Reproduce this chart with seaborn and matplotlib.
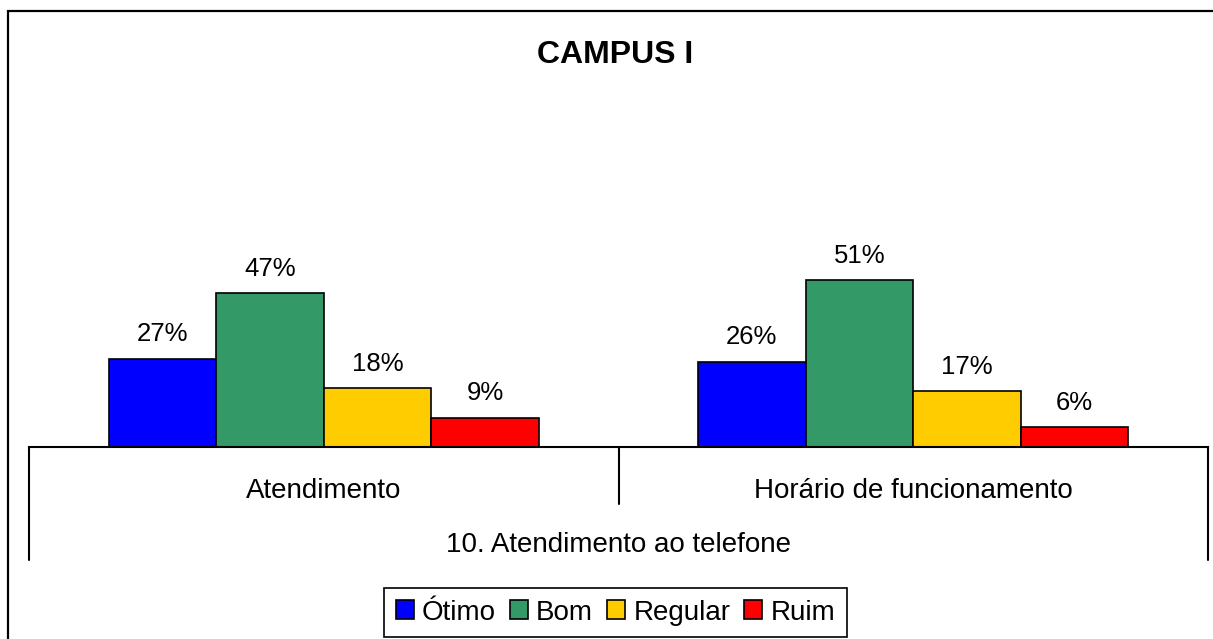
"""
CAMPUS I - 10. Atendimento ao telefone: grouped bar chart of ratings.
"""

import matplotlib
matplotlib.use("Agg")

import matplotlib.pyplot as plt
import matplotlib.transforms as mtransforms
from matplotlib.patches import Rectangle
import pandas as pd
import seaborn as sns

# ---- data -------------------------------------------------------------
items = ["Atendimento", "Horário de funcionamento"]
ratings = ["Ótimo", "Bom", "Regular", "Ruim"]
otimo = [27, 26]
bom = [47, 51]
regular = [18, 17]
ruim = [9, 6]
colors = ["#0000FF", "#339966", "#FFCC00", "#FF0000"]
title = "CAMPUS I"
group_label = "10. Atendimento ao telefone"

rows = []
for rating, vals in zip(ratings, [otimo, bom, regular, ruim]):
    for item, v in zip(items, vals):
        rows.append({"item": item, "rating": rating, "pct": v})
df = pd.DataFrame(rows)

# ---- figure -------------------------------------------------------------
sns.set_theme(style="white")
plt.rcParams["font.family"] = ["Liberation Sans", "DejaVu Sans"]
plt.rcParams["text.color"] = "black"

W, H = 1213, 639
fig = plt.figure(figsize=(W / 100, H / 100), dpi=100)
fig.patch.set_facecolor("white")

# outer frame (right/bottom edges run off the canvas)
fig.add_artist(Rectangle((8 / W, -0.2), 1.2, 1 - 11 / H + 0.2,
                         transform=fig.transFigure, fill=False,
                         edgecolor="black", linewidth=1.6))

ax_left, ax_right, ax_top, ax_base = 29, 1208, 100, 447
ax = fig.add_axes([ax_left / W, 1 - ax_base / H,
                   (ax_right - ax_left) / W, (ax_base - ax_top) / H])

sns.barplot(data=df, x="item", y="pct", hue="rating", hue_order=ratings,
            order=items, palette=colors, width=0.73, saturation=1,
            edgecolor="black", linewidth=1.2, ax=ax)

ax.set_ylim(0, (ax_base - ax_top) / 3.27)
ax.set_xlim(-0.5, len(items) - 0.5)
ax.set_xlabel("")
ax.set_ylabel("")
ax.set_xticks([])
ax.set_yticks([])
for side in ["left", "top", "right"]:
    ax.spines[side].set_visible(False)
ax.spines["bottom"].set_color("black")
ax.spines["bottom"].set_linewidth(1.5)
ax.patch.set_alpha(0)

for container in ax.containers:
    ax.bar_label(container, labels=[f"{v:.0f}%" for v in container.datavalues],
                 padding=9, fontsize=18.5, color="black")

# category separators and labels below the axis
blend = mtransforms.blended_transform_factory(ax.transData, fig.transFigure)
y0 = 1 - ax_base / H
y_inner = 1 - 504 / H
y_outer = 1 - 560 / H
n = len(items)
for i in range(n + 1):
    xb = i - 0.5
    y_end = y_outer if i in (0, n) else y_inner
    ax.plot([xb, xb], [y0, y_end], transform=blend, color="black",
            linewidth=1.5, clip_on=False)
for i, item in enumerate(items):
    ax.text(i, 1 - 498 / H, item, transform=blend, ha="center",
            va="baseline", fontsize=20, color="black")
ax.text((n - 1) / 2, 1 - 552 / H, group_label, transform=blend,
        ha="center", va="baseline", fontsize=20, color="black")

fig.text(615.5 / W, 1 - 63.3 / H, title, ha="center", va="baseline",
         fontsize=23, fontweight="bold", color="black")

# legend
handles, labels = ax.get_legend_handles_labels()
if ax.get_legend() is not None:
    ax.get_legend().remove()
leg = fig.legend(handles, labels, loc="center", ncol=4,
                 bbox_to_anchor=(615.5 / W, 1 - 612.5 / H),
                 fontsize=20, frameon=True, fancybox=False, framealpha=1,
                 handlelength=0.65, handleheight=0.65, handletextpad=0.3,
                 columnspacing=0.5, borderpad=0.42, borderaxespad=0,
                 labelcolor="black")
leg.get_frame().set_edgecolor("black")
leg.get_frame().set_linewidth(1.2)
for h in leg.legend_handles:
    h.set_edgecolor("black")
    h.set_linewidth(1.2)

fig.savefig("out.png", dpi=100, facecolor="white")
plt.close(fig)
